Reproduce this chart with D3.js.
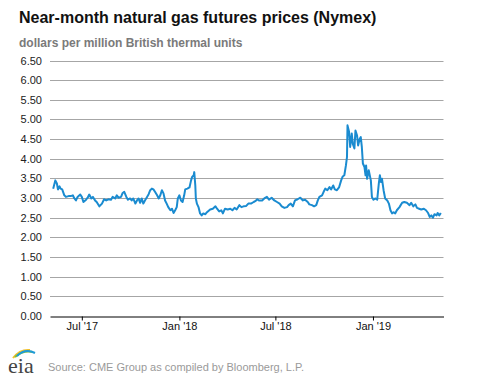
<!DOCTYPE html>
<html>
<head>
<meta charset="utf-8">
<script src="https://cdn.jsdelivr.net/npm/d3@7"></script>
<style>
  html, body { margin: 0; padding: 0; background: #fff; }
  svg { display: block; font-family: "Liberation Sans", Arial, sans-serif; }
</style>
</head>
<body>
<svg id="chart" width="477" height="379"></svg>
<script>
// ---- data ----
const dates = [
  "2017-05-08","2017-05-12","2017-05-15","2017-05-17","2017-05-20","2017-05-22","2017-05-25","2017-05-29",
  "2017-06-01","2017-06-06","2017-06-10","2017-06-14","2017-06-17","2017-06-20","2017-06-23","2017-06-28",
  "2017-07-01","2017-07-04","2017-07-09","2017-07-12","2017-07-15","2017-07-19","2017-07-22","2017-07-26","2017-07-29",
  "2017-08-03","2017-08-08","2017-08-12","2017-08-16","2017-08-20","2017-08-25","2017-08-28",
  "2017-09-02","2017-09-05","2017-09-08","2017-09-13","2017-09-16","2017-09-19","2017-09-23","2017-09-26","2017-09-30",
  "2017-10-03","2017-10-06","2017-10-10","2017-10-13","2017-10-16","2017-10-19","2017-10-22","2017-10-25","2017-10-28",
  "2017-11-01","2017-11-04","2017-11-07","2017-11-10","2017-11-13","2017-11-16","2017-11-20","2017-11-23","2017-11-26","2017-11-29",
  "2017-12-02","2017-12-05","2017-12-08","2017-12-11","2017-12-15","2017-12-18","2017-12-21","2017-12-24","2017-12-27","2017-12-29",
  "2018-01-01","2018-01-04","2018-01-07","2018-01-10","2018-01-12","2018-01-16","2018-01-20","2018-01-23","2018-01-25","2018-01-28","2018-01-29","2018-01-31",
  "2018-02-01","2018-02-03","2018-02-06","2018-02-09","2018-02-12","2018-02-15","2018-02-19","2018-02-22","2018-02-28",
  "2018-03-05","2018-03-10","2018-03-13","2018-03-17","2018-03-21","2018-03-24","2018-03-28",
  "2018-04-02","2018-04-07","2018-04-11","2018-04-15","2018-04-19","2018-04-24","2018-04-28",
  "2018-05-02","2018-05-07","2018-05-11","2018-05-16","2018-05-21","2018-05-24","2018-05-28","2018-05-31",
  "2018-06-06","2018-06-10","2018-06-15","2018-06-19","2018-06-24","2018-06-29",
  "2018-07-04","2018-07-09","2018-07-13","2018-07-18","2018-07-23","2018-07-26","2018-07-30",
  "2018-08-03","2018-08-07","2018-08-12","2018-08-17","2018-08-22","2018-08-26","2018-08-31",
  "2018-09-03","2018-09-08","2018-09-12","2018-09-16","2018-09-19","2018-09-22","2018-09-27","2018-09-30",
  "2018-10-03","2018-10-07","2018-10-11","2018-10-14","2018-10-18","2018-10-21","2018-10-25","2018-10-29",
  "2018-11-02","2018-11-05","2018-11-08","2018-11-11","2018-11-13","2018-11-14","2018-11-17","2018-11-19","2018-11-22","2018-11-24","2018-11-27","2018-11-29",
  "2018-12-02","2018-12-04","2018-12-07","2018-12-09","2018-12-11","2018-12-13","2018-12-16","2018-12-18","2018-12-19","2018-12-21","2018-12-24","2018-12-28","2018-12-30",
  "2019-01-02","2019-01-05","2019-01-09","2019-01-12","2019-01-14","2019-01-16","2019-01-18","2019-01-21","2019-01-24","2019-01-28","2019-01-31",
  "2019-02-03","2019-02-06","2019-02-09","2019-02-12","2019-02-15","2019-02-20","2019-02-25",
  "2019-03-01","2019-03-06","2019-03-11","2019-03-14","2019-03-18","2019-03-22","2019-03-25","2019-03-29",
  "2019-04-02","2019-04-07","2019-04-11","2019-04-15","2019-04-18","2019-04-21","2019-04-24","2019-04-27",
  "2019-05-01","2019-05-03","2019-05-06","2019-05-09"
];
const prices = [
  3.24,3.45,3.37,3.22,3.30,3.24,3.22,3.07,
  3.03,3.05,3.05,3.07,2.99,2.94,3.03,3.09,
  3.03,2.90,2.96,3.01,3.09,2.99,3.03,2.94,2.90,
  2.79,2.86,2.97,2.94,2.97,2.96,3.03,
  2.99,3.07,3.01,3.03,3.13,3.16,3.03,2.96,2.99,
  2.94,2.99,2.86,2.94,2.99,2.88,2.99,2.86,2.94,
  3.03,3.10,3.20,3.24,3.22,3.16,3.07,2.99,3.07,3.20,
  3.12,2.94,2.86,2.77,2.69,2.73,2.62,2.69,2.77,2.99,
  3.07,2.94,2.90,3.07,3.22,3.24,3.27,3.45,3.54,3.58,3.66,3.32,
  2.99,2.86,2.77,2.61,2.56,2.61,2.59,2.64,2.71,
  2.73,2.79,2.73,2.66,2.69,2.61,2.73,
  2.71,2.73,2.69,2.75,2.71,2.82,2.77,
  2.79,2.80,2.86,2.86,2.90,2.92,2.97,2.94,
  2.94,2.99,3.03,2.96,3.01,2.94,
  2.90,2.86,2.79,2.75,2.77,2.82,2.86,
  2.79,2.94,2.97,3.01,2.94,2.96,2.90,
  2.84,2.82,2.79,2.82,2.94,3.03,3.07,3.16,
  3.24,3.20,3.28,3.22,3.32,3.22,3.20,3.27,
  3.45,3.55,3.58,3.83,4.04,4.85,4.68,4.30,4.64,4.38,4.26,4.72,
  4.59,4.34,4.51,4.55,4.30,3.88,3.79,3.58,3.83,3.49,3.71,3.45,3.03,
  2.96,2.99,2.96,3.37,3.58,3.41,3.49,3.20,2.99,2.94,2.86,
  2.69,2.61,2.64,2.61,2.69,2.77,2.88,
  2.90,2.88,2.82,2.88,2.79,2.84,2.75,2.73,
  2.71,2.73,2.69,2.62,2.52,2.56,2.50,2.59,
  2.56,2.62,2.56,2.62
];
const yTicks = [0,0.5,1,1.5,2,2.5,3,3.5,4,4.5,5,5.5,6,6.5];
const xTickDates = ["2017-07-01","2018-01-01","2018-07-01","2019-01-01"];
const xTickLabels = ["Jul '17","Jan '18","Jul '18","Jan '19"];
const xDomain = ["2017-05-02","2019-05-14"];

const title = "Near-month natural gas futures prices (Nymex)";
const subtitle = "dollars per million British thermal units";
const source = "Source: CME Group as compiled by Bloomberg, L.P.";

// ---- chart ----
(function () {
const parse = d3.utcParse("%Y-%m-%d");
const data = dates.map((d, i) => ({ date: parse(d), value: prices[i] }));

const svg = d3.select("#chart");
const pLeft = 50, pRight = 443.5, pTop = 60.5, pBottom = 316;

const x = d3.scaleUtc().domain(xDomain.map(parse)).range([pLeft, pRight]);
const y = d3.scaleLinear().domain([0, 6.5]).range([pBottom, pTop]);

svg.append("text").attr("x", 19).attr("y", 23)
  .attr("font-size", 16).attr("font-weight", "bold").attr("fill", "#111").text(title);
svg.append("text").attr("x", 19).attr("y", 47)
  .attr("font-size", 12).attr("font-weight", "bold").attr("fill", "#7a7a7a").text(subtitle);

// gridlines
svg.append("g").selectAll("line").data(yTicks.filter(t => t > 0)).join("line")
  .attr("x1", pLeft).attr("x2", pRight)
  .attr("y1", d => Math.round(y(d)) + 0.5).attr("y2", d => Math.round(y(d)) + 0.5)
  .attr("stroke", "#a6a6a6").attr("stroke-width", 1);

// y labels
svg.append("g").selectAll("text").data(yTicks).join("text")
  .attr("x", 42).attr("y", d => Math.round(y(d)) + 4)
  .attr("text-anchor", "end").attr("font-size", 11).attr("fill", "#222")
  .text(d => d3.format(".2f")(d));

// x axis
const xAxis = d3.axisBottom(x)
  .tickValues(xTickDates.map(parse))
  .tickFormat((d, i) => xTickLabels[i])
  .tickSize(4).tickSizeOuter(0);
const gx = svg.append("g").attr("transform", `translate(0,${Math.round(pBottom) + 0.5})`).call(xAxis);
gx.select(".domain").attr("stroke", "#000");
gx.selectAll(".tick line").attr("stroke", "#000");
gx.selectAll(".tick text").attr("font-size", 11).attr("fill", "#111")
  .attr("font-family", "Liberation Sans, Arial, sans-serif").attr("dy", "0.6em");

// line
const line = d3.line().x(d => x(d.date)).y(d => y(d.value));
svg.append("path").datum(data)
  .attr("fill", "none").attr("stroke", "#1a8bd0").attr("stroke-width", 2)
  .attr("stroke-linejoin", "round").attr("d", line);

// footer logo
const logo = svg.append("g");
logo.append("path").attr("d", "M13,358 Q20,349 30,350").attr("fill", "none").attr("stroke", "#f2c12e").attr("stroke-width", 2);
logo.append("path").attr("d", "M15,357 Q23,350 33,352").attr("fill", "none").attr("stroke", "#7dbd42").attr("stroke-width", 2);
logo.append("path").attr("d", "M17,356 Q25,348 35,353").attr("fill", "none").attr("stroke", "#1e9ad6").attr("stroke-width", 2);
logo.append("text").attr("x", 8).attr("y", 373)
  .attr("font-family", "Liberation Serif, serif").attr("font-size", 22).attr("fill", "#444").text("eia");

svg.append("text").attr("x", 48).attr("y", 371)
  .attr("font-size", 11).attr("fill", "#9a9a9a").text(source);
})();
</script>
</body>
</html>
